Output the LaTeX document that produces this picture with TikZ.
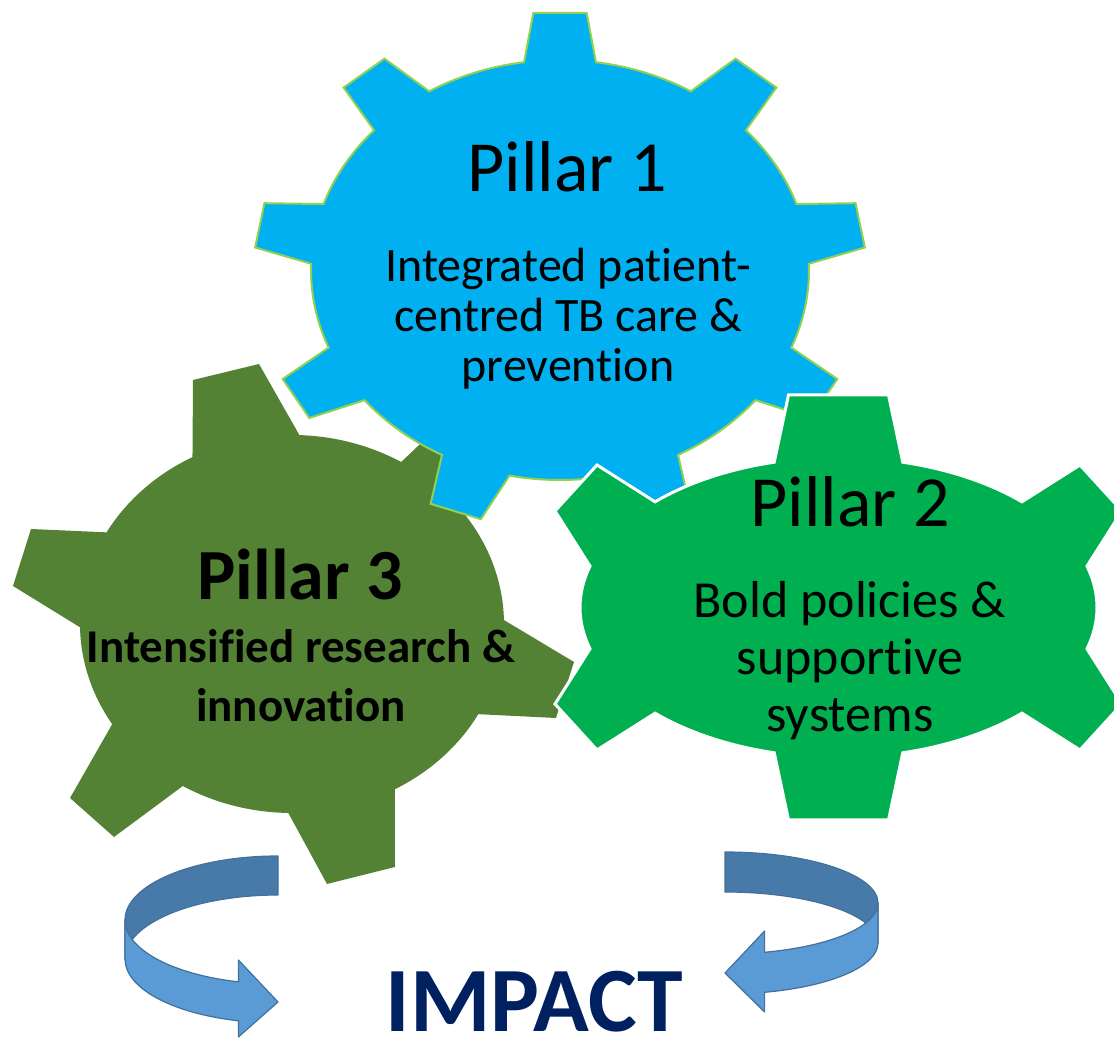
\documentclass[tikz,border=0pt]{standalone}
\usepackage{fontspec}
\setmainfont{Carlito}[Ligatures=NoCommon]
\usepackage{xcolor}
\usepackage{tikz}

\definecolor{pillarblue}{HTML}{00B0F0}
\definecolor{pillarline}{HTML}{92D050}
\definecolor{pillargreen}{HTML}{00B050}
\definecolor{pillarolive}{HTML}{548235}
\definecolor{impactnavy}{HTML}{002060}
\definecolor{arrowback}{HTML}{4779A9}
\definecolor{arrowfront}{HTML}{5B9BD5}
\definecolor{arrowline}{HTML}{41719C}

\begin{document}
\begin{tikzpicture}[
    x=1pt, y=1pt,
    gearone/.style={fill=pillarblue, draw=pillarline, line width=2pt},
    geartwo/.style={fill=pillargreen, draw=white, line width=3pt},
    gearthree/.style={fill=pillarolive},
    title/.style={font=\fontsize{72}{80}\selectfont, anchor=base, inner sep=1pt},
    body/.style={align=center, anchor=base, inner sep=1pt},
    ribbonback/.style={fill=arrowback, draw=arrowline, line width=1.2pt, line join=round},
    ribbonfront/.style={fill=arrowfront, draw=arrowline, line width=1.2pt, line join=round}
]
\useasboundingbox (0,0) rectangle (1114,1039);
\clip (0,0) rectangle (1114,1039);

% Pillar 3 gear (back)
\begin{scope}[shift={(292,415)}, x radius=212, y radius=189]
\fill[gearthree] (-28.5:212 and 189)
  -- (264,-94) -- (282,-38) -- (1.2:212 and 189) arc[start angle=1.2, end angle=35]
  -- (215,175) -- (165,215) -- (59:212 and 189) arc[start angle=59, end angle=88]
  -- (-33,260) -- (-99,244) -- (118:212 and 189) arc[start angle=118, end angle=151]
  -- (-261,95) -- (-279,38) -- (181:212 and 189) arc[start angle=181, end angle=212]
  -- (-222,-174) -- (-178,-213) -- (239:212 and 189) arc[start angle=239, end angle=269]
  -- (35,-260) -- (103,-243) -- (299:212 and 189) arc[start angle=299, end angle=331.5]
  -- cycle;
\end{scope}

% Pillar 1 gear
\begin{scope}[shift={(560,769)}, x radius=249, y radius=210]
\filldraw[gearone] (1.7:249 and 210)
  \foreach \a in {10,50,...,330} {
    -- (\a-5:306 and 258) -- (\a+5:306 and 258) -- (\a+8.3:249 and 210)
    arc[start angle=\a+8.3, end angle=\a+31.7]
  } -- cycle;
\end{scope}

% Pillar 2 gear (front)
\begin{scope}[shift={(838.5,431.5)}, x radius=258.5, y radius=150]
\filldraw[geartwo] (16:258.5 and 150)
  -- (283.5,96.5) -- (241.5,142.5) -- (44.8:258.5 and 150) arc[start angle=44.8, end angle=75.6]
  -- (50,212.5) -- (-50,212.5) -- (104.4:258.5 and 150) arc[start angle=104.4, end angle=135.2]
  -- (-241.5,142.5) -- (-283.5,96.5) -- (164:258.5 and 150) arc[start angle=164, end angle=196]
  -- (-283.5,-96.5) -- (-241.5,-142.5) -- (224.8:258.5 and 150) arc[start angle=224.8, end angle=255.6]
  -- (-50,-212.5) -- (50,-212.5) -- (284.4:258.5 and 150) arc[start angle=284.4, end angle=315.2]
  -- (241.5,-142.5) -- (283.5,-96.5) -- (344:258.5 and 150) arc[start angle=344, end angle=376]
  -- cycle;
\end{scope}

% Gear labels (multi-line nodes sit on their last line)
\node[title] (p1title) at (567,847) {Pillar 1};
\node[body, font=\fontsize{48}{50}\selectfont] (p1text) at (568,657) {Integrated patient-\\centred TB care \&\\prevention};
\node[title] (p2title) at (850,512) {Pillar 2};
\node[body, font=\fontsize{52}{57}\selectfont] (p2text) at (850,307) {Bold policies \&\\supportive\\systems};
\node[title, font=\bfseries\fontsize{72}{80}\selectfont] (p3title) at (300,439) {Pillar 3};
\node[body, font=\bfseries\fontsize{47}{59}\selectfont] (p3text) at (301,317) {Intensified research \&\\innovation};

% Left circular arrow
\filldraw[ribbonback] (278,183) arc[start angle=90, end angle=180, x radius=153, y radius=64]
  -- (125,80) arc[start angle=180, end angle=90, x radius=153, y radius=64] -- cycle;
\filldraw[ribbonfront] (125,119) arc[start angle=180, end angle=255, x radius=153, y radius=64]
  -- (238.4,79) -- (278,37) -- (238.4,2) -- (238.4,18.2)
  arc[start angle=255, end angle=180, x radius=153, y radius=64] -- cycle;

% Right circular arrow
\filldraw[ribbonback] (725,187) arc[start angle=90, end angle=0, x radius=153, y radius=51]
  -- (878,96) arc[start angle=0, end angle=90, x radius=153, y radius=51] -- cycle;
\filldraw[ribbonfront] (878,136) arc[start angle=360, end angle=285, x radius=153, y radius=51]
  -- (764.6,108) -- (725,66) -- (764.6,27) -- (764.6,46.7)
  arc[start angle=285, end angle=360, x radius=153, y radius=51] -- cycle;

% Impact label
\node[anchor=base, inner sep=1pt, font=\bfseries\fontsize{92}{100}\selectfont, text=impactnavy] (impact) at (534.5,7) {IMPACT};

\end{tikzpicture}
\end{document}
